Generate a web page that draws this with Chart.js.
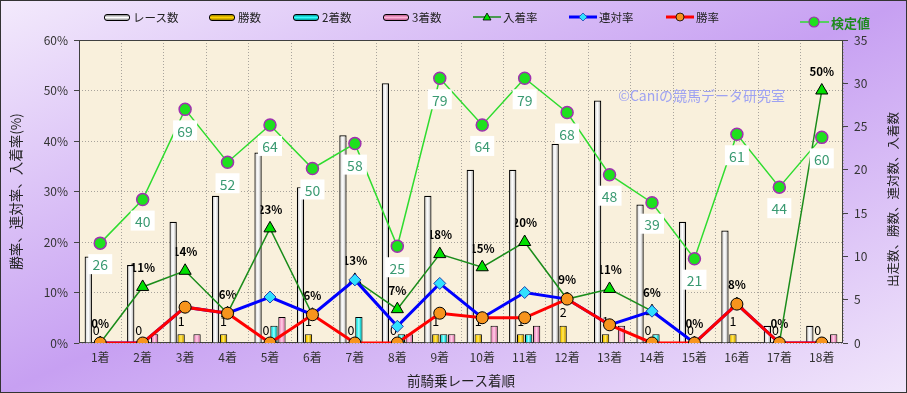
<!DOCTYPE html>
<html>
<head>
<meta charset="utf-8">
<script src="https://cdn.jsdelivr.net/npm/chart.js@4.4.0/dist/chart.umd.min.js"></script>
<style>
  html, body { margin: 0; padding: 0; }
  #wrap {
    position: relative; width: 907px; height: 393px; overflow: hidden;
    background: linear-gradient(to bottom right, #f3eafc 0%, #c7a0f2 50%, #f1e6fb 100%);
    font-family: "Noto Sans CJK JP", sans-serif;
  }
  #frame { position: absolute; left: 0; top: 0; width: 907px; height: 393px; box-sizing: border-box; border: 1px solid #333; pointer-events: none; }
  canvas { position: absolute; left: 0; top: 0; }
  .lg { position: absolute; top: 9px; height: 16px; display: flex; align-items: center; font-size: 11.5px; color: #222; white-space: nowrap; }
  .sw { width: 24px; height: 5px; border: 1px solid #000; border-radius: 3px; margin-right: 3px; }
  .lg svg { margin-right: 2px; }
</style>
</head>
<body>
<div id="wrap">
  <canvas id="c" width="907" height="393"></canvas>
  <div class="lg" style="left:104px"><div class="sw" style="background:linear-gradient(#8a8a8a,#fff 50%,#9a9a9a)"></div>レース数</div>
  <div class="lg" style="left:209px"><div class="sw" style="background:linear-gradient(#a08000,#ffd400 50%,#a08000)"></div>勝数</div>
  <div class="lg" style="left:293px"><div class="sw" style="background:linear-gradient(#009a9a,#30ffff 50%,#009a9a)"></div>2着数</div>
  <div class="lg" style="left:383px"><div class="sw" style="background:linear-gradient(#c06090,#ffb0d8 50%,#c06090)"></div>3着数</div>
  <div class="lg" style="left:473px"><svg width="28" height="12"><line x1="0" y1="6" x2="28" y2="6" stroke="#1a8c1a" stroke-width="1.5"/><polygon points="14,2 18,9 10,9" fill="#00e000" stroke="#000" stroke-width="0.8"/></svg>入着率</div>
  <div class="lg" style="left:569px"><svg width="28" height="12"><line x1="0" y1="6" x2="28" y2="6" stroke="#0000ff" stroke-width="3"/><polygon points="14,2 18,6 14,10 10,6" fill="#30e0ff" stroke="#2040b0" stroke-width="0.8"/></svg>連対率</div>
  <div class="lg" style="left:666px"><svg width="28" height="12"><line x1="0" y1="6" x2="28" y2="6" stroke="#ff0000" stroke-width="3"/><circle cx="14" cy="6" r="4" fill="#f7941d" stroke="#000" stroke-width="0.8"/></svg>勝率</div>
  <div class="lg" style="left:800px;top:14px;font-size:13px;color:#1f8a1f;font-weight:bold"><svg width="29" height="14"><line x1="0" y1="7" x2="29" y2="7" stroke="#2fdc2f" stroke-width="1.5"/><circle cx="14" cy="7" r="5" fill="#1ee01e" stroke="#a030b0" stroke-width="1.2"/></svg>検定値</div>
  <div id="frame"></div>
</div>
<script>
// data
const labels = ['1着','2着','3着','4着','5着','6着','7着','8着','9着','10着','11着','12着','13着','14着','15着','16着','17着','18着'];
const raceCount   = [10, 9, 14, 17, 22, 18, 24, 30, 17, 20, 20, 23, 28, 16, 14, 13, 2, 2];
const winCount    = [0, 0, 1, 1, 0, 1, 0, 0, 1, 1, 1, 2, 1, 0, 0, 1, 0, 0];
const secondCount = [0, 0, 0, 0, 2, 0, 3, 1, 1, 0, 1, 0, 0, 1, 0, 0, 0, 0];
const thirdCount  = [0, 1, 1, 0, 3, 0, 0, 1, 1, 2, 2, 0, 2, 0, 0, 0, 0, 1];
const winRate     = [0, 0, 7.1, 5.9, 0, 5.6, 0, 0, 5.9, 5, 5, 8.7, 3.6, 0, 0, 7.7, 0, 0];
const rentaiRate  = [0, 0, 7.1, 5.9, 9.1, 5.6, 12.5, 3.3, 11.8, 5, 10, 8.7, 3.6, 6.3, 0, 7.7, 0, 0];
const placeRate   = [0, 11.1, 14.3, 5.9, 22.7, 5.6, 12.5, 6.7, 17.6, 15, 20, 8.7, 10.7, 6.3, 0, 7.7, 0, 50];
const testValue   = [26, 40, 69, 52, 64, 50, 58, 25, 79, 64, 79, 68, 48, 39, 21, 61, 44, 60];
const pctTicks = [0, 10, 20, 30, 40, 50, 60];
const cntTicks = [0, 5, 10, 15, 20, 25, 30, 35];

const F = '"Noto Sans CJK JP", sans-serif';

// bar shading left -> right
const shades = {
  race:   ['#8c8c8c', '#e6e6e6', '#ffffff', '#d0d0d0', '#8c8c8c'],
  win:    ['#a07e00', '#ffd200', '#ffe866', '#e0b400', '#a07e00'],
  second: ['#009090', '#20f0f0', '#a0ffff', '#10d0d0', '#009090'],
  third:  ['#b85a8a', '#f59ac8', '#ffd0e8', '#e888b8', '#b85a8a']
};

const decor = {
  id: 'decor',
  beforeDraw(chart) {
    const {ctx, chartArea: a} = chart;
    ctx.save();
    ctx.fillStyle = '#f9f0dc';
    ctx.fillRect(a.left, a.top, a.right - a.left, a.bottom - a.top);
    ctx.restore();
  },
  beforeDatasetsDraw(chart) {
    const {ctx, chartArea: a} = chart;
    // gradient fill on bars
    chart.data.datasets.forEach((ds, i) => {
      if (!ds.shade) return;
      chart.getDatasetMeta(i).data.forEach(el => {
        const g = ctx.createLinearGradient(el.x - el.width / 2, 0, el.x + el.width / 2, 0);
        const s = shades[ds.shade];
        s.forEach((c, k) => g.addColorStop(k / (s.length - 1), c));
        el.options = Object.assign({}, el.options, {backgroundColor: g});
      });
    });
    ctx.save();
    // plot frame
    ctx.strokeStyle = '#404040';
    ctx.lineWidth = 1;
    ctx.strokeRect(a.left + 0.5, a.top + 0.5, a.right - a.left - 1, a.bottom - a.top - 1);
    // watermark
    ctx.fillStyle = '#9ea2f2';
    ctx.font = '14px ' + F;
    ctx.textAlign = 'center';
    ctx.textBaseline = 'middle';
    ctx.fillText('©Caniの競馬データ研究室', a.left + (a.right - a.left) * 0.815, a.top + 56);
    // labels that sit under the bars
    ctx.fillStyle = '#000';
    const place = chart.getDatasetMeta(2);
    ctx.font = 'bold 11.5px ' + F;
    place.data.forEach((pt, i) => ctx.fillText(Math.round(placeRate[i]) + '%', pt.x, pt.y - 19));
    const wins = chart.getDatasetMeta(5);
    ctx.font = '12.5px ' + F;
    wins.data.forEach((el, i) => ctx.fillText(String(winCount[i]), el.x, el.y - 13));
    ctx.restore();
  },
  afterDatasetsDraw(chart) {
    const {ctx} = chart;
    ctx.save();
    ctx.font = '14px ' + F;
    ctx.textAlign = 'center';
    ctx.textBaseline = 'middle';
    chart.getDatasetMeta(3).data.forEach((pt, i) => {
      const y = pt.y + 21;
      ctx.fillStyle = '#ffffff';
      ctx.fillRect(pt.x - 12, y - 10, 24, 20);
      ctx.fillStyle = '#3a9a72';
      ctx.fillText(String(testValue[i]), pt.x, y + 1);
    });
    ctx.restore();
  },
  afterDraw(chart) {
    const {ctx, chartArea: a} = chart;
    ctx.save();
    ctx.translate(893, (a.top + a.bottom) / 2 + 8);
    ctx.rotate(-Math.PI / 2);
    ctx.font = '12.5px ' + F;
    ctx.fillStyle = '#222';
    ctx.textAlign = 'center';
    ctx.textBaseline = 'middle';
    ctx.fillText('出走数、勝数、連対数、入着数', 0, 0);
    ctx.restore();
  }
};

const tickFont = {family: F, size: 12};

new Chart(document.getElementById('c'), {
  type: 'bar',
  data: {
    labels: labels,
    datasets: [
      { type: 'line', label: '勝率', data: winRate, yAxisID: 'y', order: 0,
        borderColor: '#ff0000', borderWidth: 3, pointStyle: 'circle', pointRadius: 6,
        pointBackgroundColor: '#f7941d', pointBorderColor: '#000', pointBorderWidth: 1 },
      { type: 'line', label: '連対率', data: rentaiRate, yAxisID: 'y', order: 1,
        borderColor: '#0000ff', borderWidth: 3, pointStyle: 'rectRot', pointRadius: 6,
        pointBackgroundColor: '#30e0ff', pointBorderColor: '#2040b0', pointBorderWidth: 1 },
      { type: 'line', label: '入着率', data: placeRate, yAxisID: 'y', order: 2,
        borderColor: '#1a8c1a', borderWidth: 1.5, pointStyle: 'triangle', pointRadius: 7,
        pointBackgroundColor: '#00e000', pointBorderColor: '#000', pointBorderWidth: 1 },
      { type: 'line', label: '検定値', data: testValue, yAxisID: 'y3', order: 3,
        borderColor: '#2fdc2f', borderWidth: 1.5, pointStyle: 'circle', pointRadius: 6,
        pointBackgroundColor: '#1ee01e', pointBorderColor: '#a030b0', pointBorderWidth: 1.5 },
      { label: 'レース数', data: raceCount, yAxisID: 'y2', order: 10, shade: 'race',
        backgroundColor: '#eeeeee', borderColor: '#000', borderWidth: 1.2 },
      { label: '勝数', data: winCount, yAxisID: 'y2', order: 10, shade: 'win',
        backgroundColor: '#ffd200', borderColor: '#000', borderWidth: 1 },
      { label: '2着数', data: secondCount, yAxisID: 'y2', order: 10, shade: 'second',
        backgroundColor: '#20f0f0', borderColor: '#000', borderWidth: 1 },
      { label: '3着数', data: thirdCount, yAxisID: 'y2', order: 10, shade: 'third',
        backgroundColor: '#f59ac8', borderColor: '#000', borderWidth: 1 }
    ]
  },
  options: {
    responsive: false,
    animation: false,
    devicePixelRatio: 1,
    layout: { padding: { top: 40, left: 0, right: 0, bottom: 0 } },
    datasets: { bar: { barPercentage: 0.92, categoryPercentage: 0.75 }, line: { tension: 0 } },
    plugins: { legend: { display: false }, tooltip: { enabled: false } },
    scales: {
      x: {
        grid: { color: '#a9a49c', drawTicks: false, offset: true },
        border: { display: false, dash: [1, 2] },
        ticks: { color: '#333', font: tickFont, padding: 7, maxRotation: 0, autoSkip: false },
        title: { display: true, text: '前騎乗レース着順', color: '#222', font: {family: F, size: 13.5}, padding: {top: 2, bottom: 4} },
        afterFit(s) { s.height = 50; }
      },
      y: {
        position: 'left', min: 0, max: 60,
        afterBuildTicks(s) { s.ticks = pctTicks.map(v => ({value: v})); },
        ticks: { callback: v => v + '%', color: '#333', font: tickFont, padding: 6 },
        grid: { color: '#a9a49c', tickLength: 5, tickColor: '#444' },
        border: { display: false, dash: [1, 2] },
        title: { display: true, text: '勝率、連対率、入着率(%)', color: '#222', font: {family: F, size: 13.5}, padding: {top: 8, bottom: 0} },
        afterFit(s) { s.width = 79; }
      },
      y2: {
        position: 'right', min: 0, max: 35,
        afterBuildTicks(s) { s.ticks = cntTicks.map(v => ({value: v})); },
        ticks: { color: '#333', font: tickFont, padding: 6 },
        grid: { drawOnChartArea: false, tickLength: 5, tickColor: '#444' },
        border: { display: false },
        afterFit(s) { s.width = 64; }
      },
      y3: { display: false, min: -6.1, max: 91.3 }
    }
  },
  plugins: [decor]
});
</script>
</body>
</html>
